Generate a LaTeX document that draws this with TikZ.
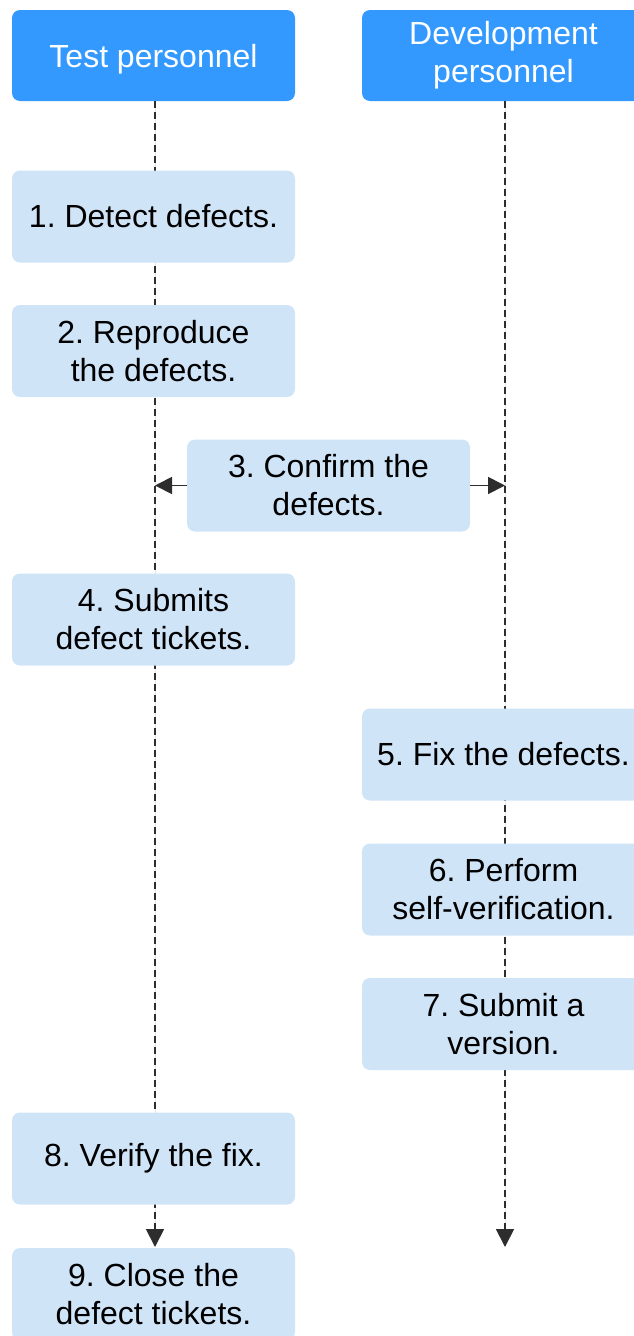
\documentclass[tikz,border=0pt]{standalone}
\usepackage{fontspec}
\setmainfont{Liberation Sans}
\usetikzlibrary{arrows.meta}
\definecolor{headblue}{RGB}{51,153,255}
\definecolor{steplight}{RGB}{208,228,248}
\definecolor{lineink}{RGB}{45,45,45}
\frenchspacing
\begin{document}
\begin{tikzpicture}[x=1pt,y=-1pt,
  lane/.style={rectangle, rounded corners=8pt, minimum width=283pt, minimum height=91pt,
    inner sep=0pt, align=center, fill=headblue, text=white,
    font=\fontsize{32}{38}\selectfont},
  stepbox/.style={rectangle, rounded corners=8pt, minimum width=283pt, minimum height=92pt,
    inner sep=0pt, align=center, fill=steplight, text=black,
    font=\fontsize{32}{38}\selectfont},
  lifeline/.style={draw=lineink, line width=1.8pt, dash pattern=on 7pt off 4pt},
  msg/.style={draw=lineink, line width=1.8pt, -{Triangle[length=17pt,width=17pt]}},
  tip/.style={-{Triangle[length=18pt,width=18pt]}}]
  \useasboundingbox (0,0) rectangle (634,1336);

  % swimlane headers
  \node[lane, text depth=0pt] (test) at (153.5,55.5) {Test personnel};
  \node[lane] (dev)  at (503.5,55.5) {Development\\personnel};

  % lifeline ends
  \coordinate (testEnd) at (155,1247);
  \coordinate (devEnd)  at (505,1247);

  % dashed lifelines, drawn beneath the step boxes
  \draw[lifeline, tip, fill=lineink] (test.south -| testEnd) -- (testEnd);
  \draw[lifeline, tip, fill=lineink] (dev.south -| devEnd) -- (devEnd);

  % process steps
  \node[stepbox] (s1) at (153.5,216.5) {1. Detect defects.};
  \node[stepbox] (s2) at (153.5,351) {2. Reproduce\\the defects.};
  \node[stepbox] (s3) at (328.5,485.5) {3. Confirm the\\defects.};
  \node[stepbox] (s4) at (153.5,619.5) {4. Submits\\defect tickets.};
  \node[stepbox] (s5) at (503.5,754.5) {5. Fix the defects.};
  \node[stepbox] (s6) at (503.5,889.5) {6. Perform\\self-verification.};
  \node[stepbox] (s7) at (503.5,1024) {7. Submit a\\version.};
  \node[stepbox] (s8) at (153.5,1158.5) {8. Verify the fix.};
  \node[stepbox] (s9) at (153.5,1294) {9. Close the\\defect tickets.};

  % confirmation goes out to both parties
  \coordinate (toTest) at (155,485.5);
  \coordinate (toDev)  at (505,485.5);
  \draw[msg] (s3.west) -- (toTest);
  \draw[msg] (s3.east) -- (toDev);
\end{tikzpicture}
\end{document}
